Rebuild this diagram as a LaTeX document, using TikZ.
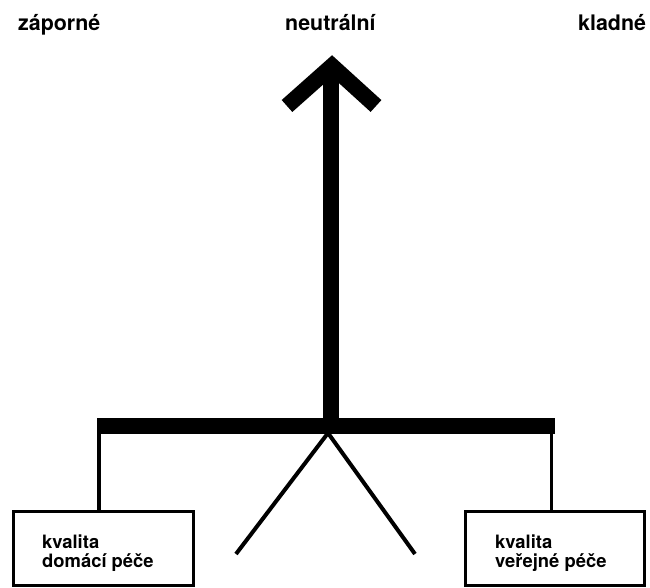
\documentclass[tikz,border=0pt]{standalone}
\usepackage{fontspec}
\setmainfont{TeX Gyre Heros}
\begin{document}
\begin{tikzpicture}[x=1pt,y=-1pt,
  toplabel/.style={font=\bfseries\fontsize{21.4}{26}\selectfont, anchor=base west, inner sep=0},
  boxtext/.style={font=\bfseries\fontsize{18.4}{19}\selectfont, anchor=base west, inner sep=0, align=left},
  heavy/.style={line width=16pt},
  thinline/.style={line width=3.5pt},
  diag/.style={line width=4pt},
  boxstyle/.style={draw, line width=3pt, rectangle, minimum height=74pt, anchor=north west, inner sep=0}]
\useasboundingbox (0,0) rectangle (650,588);
% top labels
\node[toplabel] (neg) at (18,31) {záporné};
\node[toplabel] (neu) at (285,31) {neutrální};
\node[toplabel] (pos) at (578,31) {kladné};
% boxes
\node[boxstyle, minimum width=180pt] (lbox) at (11.5,509.5) {};
\node[boxstyle, minimum width=179pt] (rbox) at (463.5,509.5) {};
\node[boxtext] (ltext) at (42,567) {kvalita\\domácí péče};
\node[boxtext] (rtext) at (495,567) {kvalita\\veřejné péče};
% key points
\coordinate (bl) at (97,426);
\coordinate (br) at (555,426);
\coordinate (lv) at (99,426);
\coordinate (rv) at (551.5,426);
\coordinate (stembase) at (331,426);
\coordinate (stemtop) at (331,70);
\coordinate (al) at (287,106);
\coordinate (tip) at (332,66);
\coordinate (ar) at (376,106);
\coordinate (apex) at (328,433);
\coordinate (dl) at (236,554);
\coordinate (dr) at (415,554);
% beam and arrow
\draw[heavy] (bl) -- (br);
\draw[heavy] (stembase) -- (stemtop);
\draw[heavy, line join=miter] (al) -- (tip) -- (ar);
% verticals to boxes
\draw[thinline] (lv) -- (lv |- lbox.north);
\draw[thinline] (rv) -- (rv |- rbox.north);
% legs
\draw[diag] (apex) -- (dl);
\draw[diag] (apex) -- (dr);
\end{tikzpicture}
\end{document}
